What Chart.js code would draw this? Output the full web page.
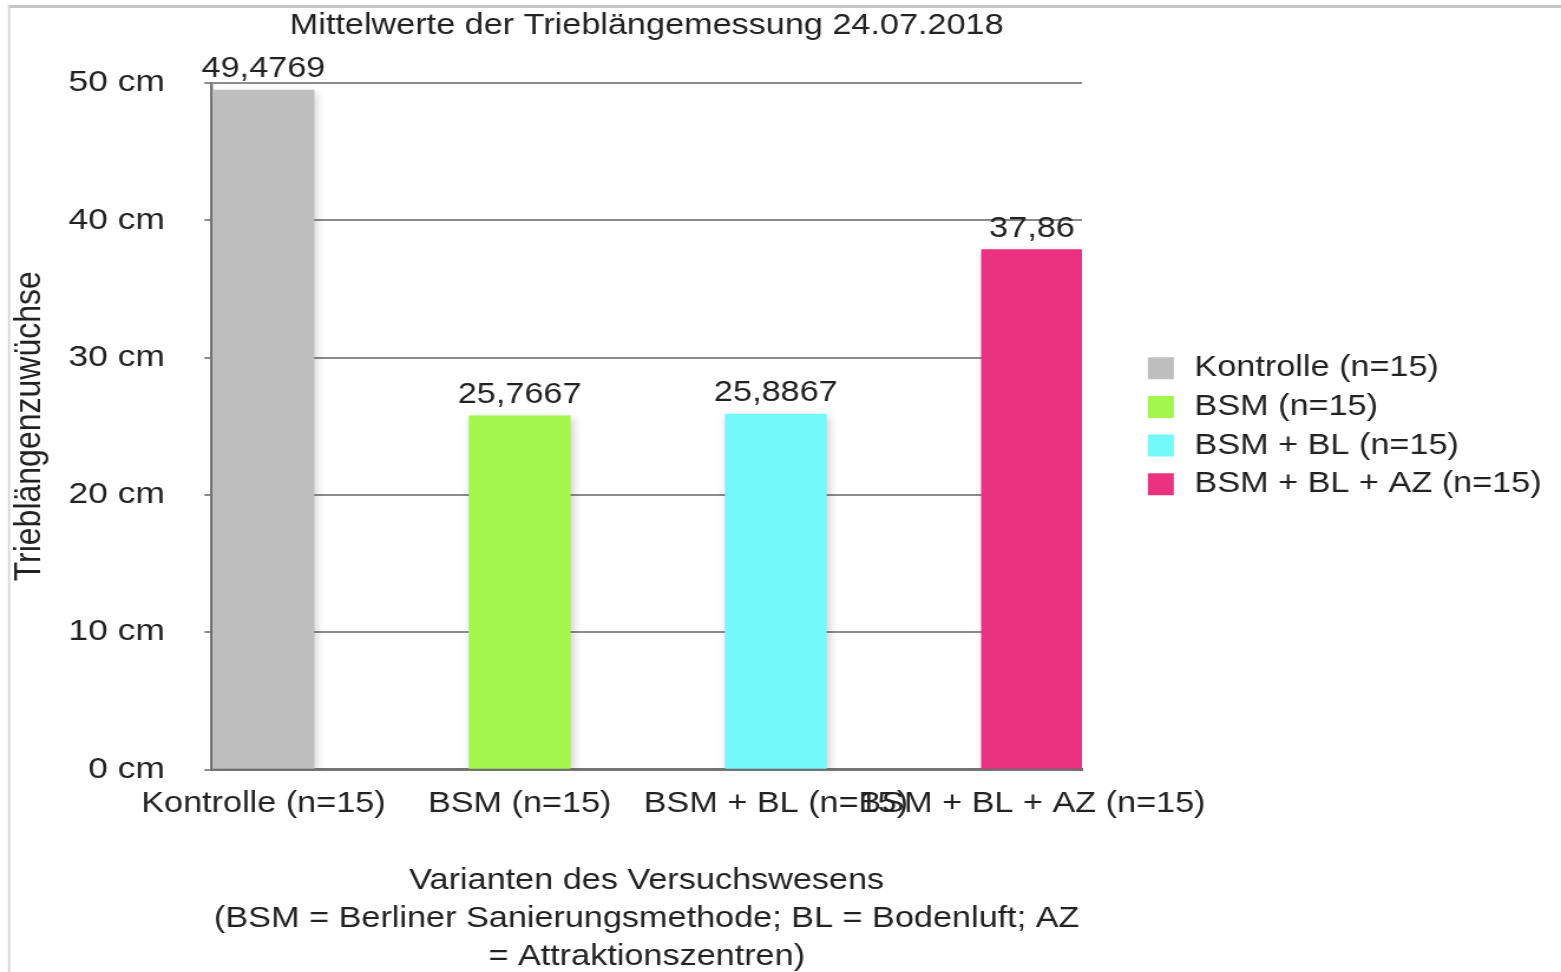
<!DOCTYPE html>
<html lang="de">
<head>
<meta charset="utf-8">
<title>Mittelwerte der Trieblängemessung</title>
<script src="https://cdn.jsdelivr.net/npm/chart.js@4.4.1/dist/chart.umd.min.js"></script>
<style>
  html, body { margin: 0; padding: 0; background: #fff; overflow: hidden; }
</style>
</head>
<body>
<!-- drawn narrower and stretched sideways, like the source picture -->
<canvas id="chart" width="1323" height="972" style="width:1561px;height:972px;display:block"></canvas>
<script>
const categories = ['Kontrolle (n=15)', 'BSM (n=15)', 'BSM + BL (n=15)', 'BSM + BL + AZ (n=15)'];
const values = [49.4769, 25.7667, 25.8867, 37.86];
const valueTexts = ['49,4769', '25,7667', '25,8867', '37,86'];
const colors = ['#bebebe', '#a2f64c', '#74f9fa', '#eb3280'];
const yTicks = [0, 10, 20, 30, 40, 50];
const chartTitle = 'Mittelwerte der Trieblängemessung 24.07.2018';
const yTitle = 'Trieblängenzuwüchse';
const xTitle = [
  'Varianten des Versuchswesens',
  '(BSM = Berliner Sanierungsmethode; BL = Bodenluft; AZ',
  '= Attraktionszentren)',
];

const textColor = '#222';
const gridColor = '#8c8c8c';
const axisColor = '#767676';

Chart.defaults.font.family = "'Liberation Sans', Arial, sans-serif";
Chart.defaults.font.size = 29;
Chart.defaults.color = textColor;

// light frame at the top and left edge
const frame = {
  id: 'frame',
  beforeDraw(chart) {
    const ctx = chart.ctx;
    ctx.save();
    ctx.fillStyle = '#c6c6c6';
    ctx.fillRect(6.8, 5, chart.width, 3);
    ctx.fillStyle = '#d4d4d4';
    ctx.fillRect(6.8, 5, 1.7, chart.height);
    ctx.restore();
  },
};

// soft shadow under the bars, then the value above each bar
const barExtras = {
  id: 'barExtras',
  beforeDatasetsDraw(chart) {
    const ctx = chart.ctx;
    ctx.save();
    ctx.shadowColor = 'rgba(0, 0, 0, 0.2)';
    ctx.shadowBlur = 8;
    ctx.shadowOffsetX = 2;
    ctx.shadowOffsetY = 3;
  },
  afterDatasetsDraw(chart) {
    const ctx = chart.ctx;
    ctx.restore();
    ctx.save();
    ctx.font = "29px 'Liberation Sans', Arial, sans-serif";
    ctx.fillStyle = textColor;
    ctx.textAlign = 'center';
    ctx.textBaseline = 'alphabetic';
    chart.data.datasets.forEach((ds, i) => {
      chart.getDatasetMeta(i).data.forEach((bar) => {
        ctx.fillText(valueTexts[i], bar.x, bar.y - 13);
      });
    });
    ctx.restore();
  },
};

new Chart(document.getElementById('chart'), {
  type: 'bar',
  data: {
    datasets: categories.map((name, i) => ({
      label: name,
      data: [{ x: i, y: values[i] }],
      backgroundColor: colors[i],
      barThickness: 85.6,
      grouped: false,
    })),
  },
  options: {
    responsive: false,
    devicePixelRatio: 1,
    animation: false,
    events: [],
    layout: { padding: { top: 0, right: 16.2, bottom: 0, left: 0 } },
    plugins: {
      tooltip: { enabled: false },
      title: {
        display: true,
        text: chartTitle,
        fullSize: false,
        color: textColor,
        font: { size: 29, weight: 'normal' },
        padding: { top: 8.6, bottom: 39.6 },
      },
      legend: {
        position: 'right',
        fullSize: false,
        align: 'center',
        maxWidth: 346.6,
        labels: {
          usePointStyle: true,
          pointStyle: 'rect',
          boxWidth: 28,
          boxHeight: 22,
          padding: 9.67,
          color: textColor,
          font: { size: 29 },
        },
      },
    },
    scales: {
      x: {
        type: 'linear',
        min: -0.203,
        max: 3.195,
        offset: false,
        afterBuildTicks: (scale) => { scale.ticks = categories.map((_, i) => ({ value: i })); },
        afterFit: (scale) => { scale.height = 202.5; },
        ticks: {
          autoSkip: false,
          maxRotation: 0,
          minRotation: 0,
          padding: 7.1,
          color: textColor,
          callback: (v) => categories[v],
        },
        grid: { offset: false, drawOnChartArea: false, drawTicks: true, tickLength: 10, color: 'rgba(0,0,0,0)' },
        border: { display: true, color: axisColor, width: 3 },
        title: {
          display: true,
          text: xTitle,
          color: textColor,
          font: { size: 29, lineHeight: 38 / 29 },
          padding: { top: 30, bottom: -4 },
        },
      },
      y: {
        min: 0,
        max: 50,
        afterBuildTicks: (scale) => { scale.ticks = yTicks.map((v) => ({ value: v })); },
        afterFit: (scale) => { scale.width = 179.2; },
        ticks: { padding: 33.4, color: textColor, font: { size: 30 }, callback: (v) => v + ' cm' },
        grid: { color: gridColor, lineWidth: 2, drawTicks: true, tickLength: 6 },
        border: { display: true, color: axisColor, width: 2.5 },
        title: {
          display: true,
          text: yTitle,
          color: textColor,
          font: { size: 32 },
          padding: { top: 6.2, bottom: 0 },
        },
      },
      // empty strip between the plot and the legend
      gap: {
        type: 'linear',
        position: 'right',
        display: true,
        grid: { display: false, drawOnChartArea: false },
        border: { display: false },
        ticks: { display: false },
        afterFit: (scale) => { scale.width = 43.2; },
      },
    },
  },
  plugins: [frame, barExtras],
});
</script>
</body>
</html>
